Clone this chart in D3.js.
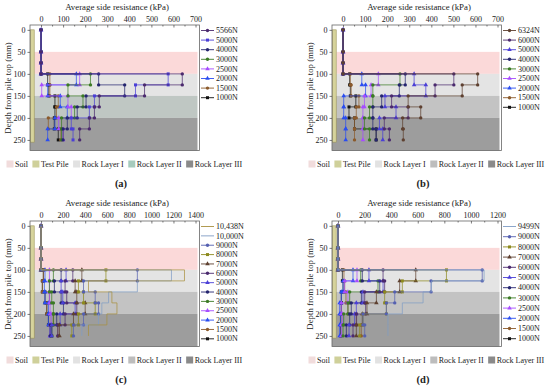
<!DOCTYPE html>
<html>
<head>
<meta charset="utf-8">
<script src="https://cdn.jsdelivr.net/npm/d3@7"></script>
<style>
  body { margin: 0; background: #fff; }
  svg { display: block; }
</style>
</head>
<body>
<svg id="chart" width="550" height="392"></svg>
<script>
////////////////////////////////////////////////////////////////
// Data

// gauge depths (mm); segment values run between depths[3..9]
const depths = [0, 50, 75, 100, 125, 150, 175, 200, 225, 250];
const depthTicks = [0, 50, 100, 150, 200, 250];

// layers behind the curves
const layerNames = ["Soil", "Test Pile", "Rock Layer I", "Rock Layer II", "Rock Layer III"];
const layerTop = [50, null, 100, 150, 200];
const layerBottom = [100, null, 150, 200, 274];

// (a)
const ticksA = [0, 100, 200, 300, 400, 500, 600, 700];
const loadsA = ["5566N", "5000N", "4000N", "3000N", "2500N", "2000N", "1500N", "1000N"];
const valuesA = [
  [640, 469, 264, 242, 219, 175],
  [576, 428, 242, 219, 137, 145],
  [261, 379, 204, 164, 119, 100],
  [224, 122, 190, 152, 93, 93],
  [175, 3, 122, 137, 80, 100],
  [160, 30, 87, 119, 63, 30],
  [40, 40, 78, 70, 33, 90],
  [30, 35, 63, 63, 60, 78]
];

// (b)
const ticksB = [0, 100, 200, 300, 400, 500, 600, 700];
const loadsB = ["6324N", "6000N", "5000N", "4000N", "3000N", "2500N", "2000N", "1500N", "1000N"];
const valuesB = [
  [610, 540, 295, 352, 270, 273],
  [502, 417, 220, 295, 187, 210],
  [322, 375, 190, 240, 165, 180],
  [282, 255, 175, 135, 135, 150],
  [258, 135, 135, 120, 97, 120],
  [160, 127, 97, 90, 90, 90],
  [85, 102, 3, 3, 12, 12],
  [33, 37, 72, 60, 52, 52],
  [30, 33, 58, 27, 52, 150]
];

// (c)
const ticksC = [0, 200, 400, 600, 800, 1000, 1200, 1400];
const loadsC = ["10,438N", "10,000N", "9000N", "8000N", "7000N", "6000N", "5000N",
                "4000N", "3000N", "2500N", "2000N", "1500N", "1000N"];
const valuesC = [
  [1300, 430, 642, 688, 597, 430],
  [1182, 873, 612, 551, 521, 370],
  [873, 385, 491, 521, 385, 294],
  [588, 339, 385, 491, 339, 279],
  [370, 309, 324, 400, 294, 167],
  [288, 218, 233, 324, 218, 152],
  [227, 182, 197, 309, 173, 97],
  [182, 121, 182, 203, 142, 82],
  [112, 76, 97, 112, 112, 97],
  [76, 76, 76, 82, 91, 82],
  [36, 30, 36, 67, 67, 82],
  [21, 12, 76, 52, 112, 152],
  [21, 12, 36, 52, 67, 97]
];

// (d)
const ticksD = [0, 200, 400, 600, 800, 1000, 1200];
const loadsD = ["9499N", "9000N", "8000N", "7000N", "6000N", "5000N",
                "4000N", "3000N", "2500N", "2000N", "1500N", "1000N"];
const valuesD = [
  [1099, 703, 640, 484, 376, 376],
  [1085, 700, 427, 364, 188, 201],
  [816, 484, 351, 364, 188, 163],
  [585, 464, 289, 218, 183, 138],
  [339, 351, 201, 208, 138, 113],
  [233, 339, 188, 138, 125, 83],
  [183, 314, 176, 100, 88, 63],
  [171, 301, 88, 75, 43, 38],
  [143, 50, 75, 25, 33, 25],
  [113, 38, 25, 13, 18, 13],
  [45, 50, 60, 75, 140, 175],
  [33, 38, 25, 25, 20, 20]
];

////////////////////////////////////////////////////////////////
// Styles

const C = {
  tan: "#a8903e", steel: "#7f9cc4", slate: "#5560b0", olive: "#8d8a1e",
  dbrown: "#5e4030", dpurple: "#4b2a6e", bviolet: "#4b3fd6", navy: "#25256f",
  green: "#3b7a24", violet: "#a64dff", blue: "#2a4df0", brown: "#8b5a2b", black: "#111"
};
const S = { c: d3.symbolCircle, s: d3.symbolSquare, t: d3.symbolTriangle, n: null };

const colorsA = [C.dpurple, C.bviolet, C.navy, C.green, C.violet, C.blue, C.brown, C.black];
const symA = ["c", "s", "c", "c", "t", "t", "c", "s"];
const colorsB = [C.dbrown, C.dpurple, C.bviolet, C.navy, C.green, C.violet, C.blue, C.brown, C.black];
const symB = ["c", "c", "t", "c", "c", "t", "t", "c", "s"];
const colorsC = [C.tan, C.steel, C.slate, C.olive, C.dbrown, C.dpurple, C.bviolet, C.navy,
                 C.green, C.violet, C.blue, C.brown, C.black];
const symC = ["n", "n", "c", "s", "t", "c", "t", "c", "c", "t", "t", "c", "s"];
const colorsD = [C.steel, C.slate, C.olive, C.dbrown, C.dpurple, C.bviolet, C.navy,
                 C.green, C.violet, C.blue, C.brown, C.black];
const symD = ["n", "c", "s", "t", "c", "t", "c", "c", "t", "t", "c", "s"];

const layerFillA = ["#fbd9d9", "#d6d39c", "#e4e4e4", "#bfc7c3", "#9d9d9d"];
const layerFill = ["#fbd9d9", "#d6d39c", "#e4e4e4", "#c3c3c3", "#9d9d9d"];
const swatchA = ["#f1dcdc", "#cfd09a", "#e2e2e2", "#a6cbbd", "#8a8a8a"];
const swatchB = ["#f1dcdc", "#cfd09a", "#e2e2e2", "#bdbdbd", "#8a8a8a"];

const svg = d3.select("#chart");
const textColor = "#222";
const serif = "Liberation Serif, Times New Roman, Times, serif";

////////////////////////////////////////////////////////////////
// Panel

function drawPanel(ox, oy, p) {
  const g = svg.append("g").attr("transform", `translate(${ox},${oy})`)
    .attr("font-family", serif);
  const x = d3.scaleLinear(p.xDomain, [30, 199.5]);
  const y = d3.scaleLinear([-11, 274], [25, 150.5]);
  const [x0, x1] = x.range();
  const pileW = 4.5;

  // layers
  layerNames.forEach((name, i) => {
    if (layerTop[i] === null) return;
    const left = i < 3 ? x0 + pileW : x0;
    g.append("rect")
      .attr("x", left).attr("width", x1 - left - 2)
      .attr("y", y(layerTop[i])).attr("height", y(layerBottom[i]) - y(layerTop[i]))
      .attr("fill", p.fills[i]);
  });

  // test pile
  g.append("rect")
    .attr("x", x0 + 0.3).attr("width", pileW - 0.6)
    .attr("y", y(0)).attr("height", y(255) - y(0))
    .attr("fill", p.fills[1]).attr("stroke", "#9b9457").attr("stroke-width", 0.6);

  // frame
  g.append("rect")
    .attr("x", x0).attr("y", 25).attr("width", x1 - x0).attr("height", 125.5)
    .attr("fill", "none").attr("stroke", "#666").attr("stroke-width", 0.8);

  // axes
  const xa = g.append("g").attr("transform", "translate(0,25)")
    .call(d3.axisTop(x).tickValues(p.ticks).tickFormat(d3.format("d"))
      .tickSizeInner(-2.5).tickSizeOuter(0).tickPadding(3.5));
  const step = p.ticks[1] - p.ticks[0];
  const minor = d3.range(step / 2, p.ticks[p.ticks.length - 1], step);
  g.append("g").attr("transform", "translate(0,25)")
    .call(d3.axisTop(x).tickValues(minor).tickFormat("").tickSizeInner(-1.5).tickSizeOuter(0))
    .call(a => a.select(".domain").remove());
  const ya = g.append("g").attr("transform", `translate(${x0},0)`)
    .call(d3.axisLeft(y).tickValues(depthTicks).tickSizeInner(2.5).tickSizeOuter(0).tickPadding(2));
  [xa, ya].forEach(a => {
    a.attr("font-family", serif);
    a.select(".domain").remove();
    a.selectAll("text").attr("font-size", 8).attr("fill", textColor);
  });
  g.selectAll(".tick line").attr("stroke", "#444").attr("stroke-width", 0.7);

  // titles
  g.append("text").attr("x", 117).attr("y", 9.5).attr("text-anchor", "middle")
    .attr("font-size", 8.8).attr("fill", textColor).text("Average side resistance (kPa)");
  g.append("text").attr("transform", "translate(11,88) rotate(-90)")
    .attr("text-anchor", "middle").attr("font-size", 8.8).attr("fill", textColor)
    .text("Depth from pile top (mm)");

  // series
  const line = d3.line().x(d => x(d[0])).y(d => y(d[1]));
  const pts = vals => {
    const out = depths.slice(0, 4).map(d => [0, d]);
    vals.forEach((v, i) => { out.push([v, depths[3 + i]]); out.push([v, depths[4 + i]]); });
    return out;
  };
  const series = p.values.map((v, i) => ({ i, pts: pts(v) })).reverse();
  series.forEach(s => {
    const col = p.colors[s.i];
    g.append("path").attr("d", line(s.pts)).attr("fill", "none")
      .attr("stroke", col).attr("stroke-width", 0.8).attr("stroke-opacity", 0.9);
    const sym = S[p.symbols[s.i]];
    if (sym) {
      g.append("g").selectAll("path").data(s.pts).join("path")
        .attr("transform", d => `translate(${x(d[0])},${y(d[1])})`)
        .attr("d", d3.symbol(sym, 9)).attr("fill", col);
    }
  });

  // legend (loads)
  const lg = g.append("g");
  p.loads.forEach((name, i) => {
    const ly = 30.5 + i * p.legendStep;
    const col = p.colors[i];
    lg.append("line").attr("x1", 201).attr("x2", 214).attr("y1", ly).attr("y2", ly)
      .attr("stroke", col).attr("stroke-width", 0.9);
    const sym = S[p.symbols[i]];
    if (sym) lg.append("path").attr("transform", `translate(207.5,${ly})`)
      .attr("d", d3.symbol(sym, 9)).attr("fill", col);
    lg.append("text").attr("x", 216).attr("y", ly).attr("dy", "0.33em")
      .attr("font-size", 8).attr("fill", textColor).text(name);
  });

  // legend (layers)
  const bl = g.append("g");
  let cx = 6.5;
  layerNames.forEach((name, i) => {
    bl.append("rect").attr("x", cx).attr("y", 160.5).attr("width", 7).attr("height", 7)
      .attr("fill", p.swatches[i]);
    const t = bl.append("text").attr("x", cx + 8.5).attr("y", 164).attr("dy", "0.33em")
      .attr("font-size", 8).attr("fill", textColor).text(name);
    cx += 8.5 + t.node().getComputedTextLength() + 4.5;
  });

  // panel label
  g.append("text").attr("x", 121).attr("y", 183).attr("dy", "0.35em")
    .attr("text-anchor", "middle").attr("font-size", 10.5).attr("font-weight", "bold")
    .attr("fill", textColor).text(p.label);
}

drawPanel(0, 0, { xDomain: [-50, 718], ticks: ticksA, loads: loadsA, values: valuesA,
  colors: colorsA, symbols: symA, legendStep: 9.6, fills: layerFillA, swatches: swatchA, label: "(a)" });
drawPanel(302, 0, { xDomain: [-50, 718], ticks: ticksB, loads: loadsB, values: valuesB,
  colors: colorsB, symbols: symB, legendStep: 9.6, fills: layerFill, swatches: swatchB, label: "(b)" });
drawPanel(0, 196, { xDomain: [-100, 1436], ticks: ticksC, loads: loadsC, values: valuesC,
  colors: colorsC, symbols: symC, legendStep: 9.36, fills: layerFill, swatches: swatchB, label: "(c)" });
drawPanel(302, 196, { xDomain: [-45, 1230], ticks: ticksD, loads: loadsD, values: valuesD,
  colors: colorsD, symbols: symD, legendStep: 10.2, fills: layerFill, swatches: swatchB, label: "(d)" });
</script>
</body>
</html>
